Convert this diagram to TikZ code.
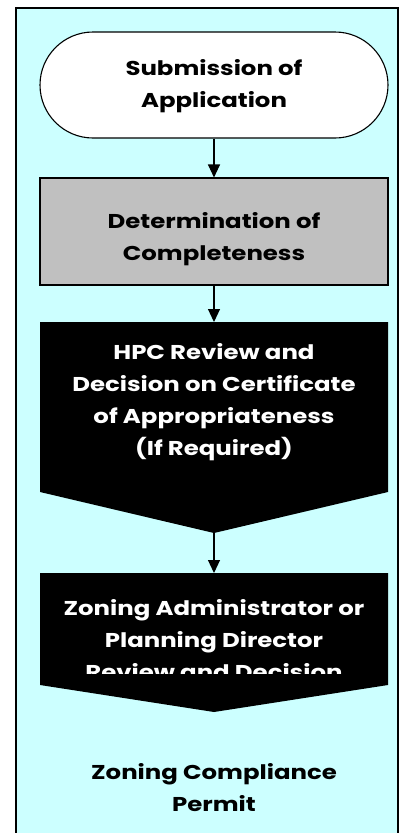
\documentclass[tikz,border=0pt]{standalone}
\usepackage{fontspec}
\setmainfont{Poppins}[FakeStretch=1.22]
\usetikzlibrary{arrows.meta}
\definecolor{bgcyan}{HTML}{CCFFFF}
\definecolor{boxgray}{HTML}{C0C0C0}
\tikzset{
  lbl/.style={align=center,font=\bfseries\fontsize{20}{32}\selectfont,inner sep=0pt},
  conn/.style={line width=1.1pt,-{Triangle[width=12pt,length=13pt]}},
  outline/.style={line width=1.1pt}
}
\begin{document}
\begin{tikzpicture}[x=1pt,y=-1pt]
\useasboundingbox (0,0) rectangle (404,833);
% background frame
\draw[outline,fill=bgcyan] (16,8) rectangle (398,845);
% terminal
\node[draw,outline,fill=white,rounded corners=53pt,minimum width=348pt,minimum height=106pt,inner sep=0pt] (sub) at (214,85) {};
\node[lbl] (subt) at (214,86) {Submission of\\Application};
% gray box
\node[draw,outline,fill=boxgray,minimum width=348pt,minimum height=107pt,inner sep=0pt] (det) at (214,231.5) {};
\node[lbl] (dett) at (214,239) {Determination of\\Completeness};
% HPC shape
\fill (40,322) -- (388,322) -- (388,492) -- (214,533) coordinate (hpcB) -- (40,492) -- cycle;
\coordinate (hpcT) at (214,322);
\node[lbl,text=white] (hpct) at (214,402) {HPC Review and\\Decision on Certificate\\of Appropriateness\\(If Required)};
% Zoning shape
\fill (40,573) -- (388,573) -- (388,685) -- (214,712) coordinate (zonB) -- (40,685) -- cycle;
\coordinate (zonT) at (214,573);
\begin{scope}
\clip (40,573) rectangle (388,673);
\node[lbl,text=white] (zont) at (214,640) {Zoning Administrator or\\Planning Director\\Review and Decision};
\end{scope}
% final
\node[lbl] (perm) at (214,788) {Zoning Compliance\\Permit};
% connectors
\draw[conn] (sub.south) -- (det.north);
\draw[conn] (det.south) -- (hpcT);
\draw[conn] (hpcB) -- (zonT);
\end{tikzpicture}
\end{document}
